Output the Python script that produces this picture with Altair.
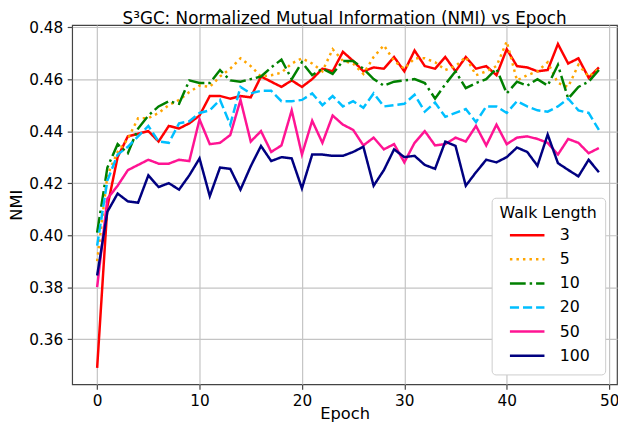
import altair as alt
import pandas as pd

epochs = list(range(50))
walk_lengths = ["3", "5", "10", "20", "50", "100"]

nmi_3 = [0.349, 0.411, 0.430, 0.438, 0.439, 0.440, 0.436, 0.442, 0.441, 0.443,
         0.446, 0.4535, 0.4535, 0.4525, 0.4535, 0.453, 0.461, 0.459, 0.457, 0.4595,
         0.457, 0.460, 0.464, 0.463, 0.4705, 0.467, 0.463, 0.4645, 0.464, 0.4685,
         0.463, 0.471, 0.465, 0.464, 0.4685, 0.463, 0.4685, 0.464, 0.465, 0.4615,
         0.4715, 0.465, 0.4645, 0.463, 0.4635, 0.4735, 0.466, 0.468, 0.4605, 0.4645]
nmi_5 = [0.390, 0.423, 0.432, 0.437, 0.445, 0.445, 0.447, 0.450, 0.452, 0.455,
         0.4575, 0.457, 0.461, 0.464, 0.468, 0.465, 0.461, 0.4615, 0.4625, 0.466,
         0.468, 0.466, 0.463, 0.4715, 0.467, 0.466, 0.462, 0.4685, 0.473, 0.467,
         0.464, 0.468, 0.468, 0.4665, 0.4635, 0.465, 0.4685, 0.4615, 0.463, 0.465,
         0.4745, 0.4595, 0.4615, 0.463, 0.4665, 0.4585, 0.457, 0.4655, 0.461, 0.464]
nmi_10 = [0.401, 0.426, 0.435, 0.4315, 0.441, 0.446, 0.4495, 0.4515, 0.4505, 0.4595,
          0.4585, 0.4585, 0.4635, 0.4595, 0.459, 0.460, 0.461, 0.4645, 0.4675, 0.460,
          0.4665, 0.4615, 0.464, 0.462, 0.467, 0.467, 0.464, 0.460, 0.4575, 0.459,
          0.4595, 0.460, 0.4585, 0.4525, 0.458, 0.463, 0.4565, 0.4585, 0.460, 0.464,
          0.4545, 0.459, 0.4575, 0.460, 0.4575, 0.4655, 0.4525, 0.457, 0.459, 0.4635]
nmi_20 = [0.396, 0.421, 0.431, 0.434, 0.438, 0.442, 0.436, 0.4355, 0.443, 0.4438,
          0.447, 0.448, 0.452, 0.4425, 0.457, 0.4545, 0.4555, 0.4555, 0.4515, 0.4515,
          0.452, 0.4545, 0.450, 0.4535, 0.4495, 0.4515, 0.449, 0.4545, 0.4495, 0.450,
          0.4505, 0.454, 0.4475, 0.451, 0.4455, 0.447, 0.4485, 0.4435, 0.4495, 0.4495,
          0.447, 0.4515, 0.4495, 0.448, 0.4475, 0.4495, 0.4525, 0.448, 0.447, 0.4405]
nmi_50 = [0.380, 0.414, 0.419, 0.425, 0.427, 0.429, 0.4275, 0.4275, 0.429, 0.4285,
          0.4445, 0.435, 0.4355, 0.4385, 0.452, 0.436, 0.440, 0.432, 0.4345, 0.448,
          0.431, 0.444, 0.4355, 0.446, 0.4425, 0.4405, 0.4345, 0.4375, 0.433, 0.435,
          0.428, 0.4355, 0.440, 0.4345, 0.435, 0.4375, 0.436, 0.442, 0.4345, 0.4425,
          0.435, 0.4375, 0.438, 0.437, 0.4355, 0.431, 0.437, 0.4355, 0.4315, 0.4335]
nmi_100 = [0.3845, 0.409, 0.416, 0.413, 0.4125, 0.423, 0.4185, 0.420, 0.4175, 0.423,
           0.4295, 0.415, 0.426, 0.4255, 0.4175, 0.4265, 0.4343, 0.4285, 0.430, 0.4295,
           0.418, 0.431, 0.431, 0.4305, 0.4305, 0.432, 0.434, 0.419, 0.425, 0.433,
           0.430, 0.4305, 0.427, 0.4255, 0.436, 0.4343, 0.419, 0.4242, 0.429, 0.428,
           0.430, 0.4337, 0.432, 0.4267, 0.4387, 0.4277, 0.4251, 0.4226, 0.429, 0.4242]

series = [nmi_3, nmi_5, nmi_10, nmi_20, nmi_50, nmi_100]
colors = ["#ff0000", "#ffa500", "#008000", "#00bfff", "#ff1493", "#000080"]
dashes = [[1, 0], [2.5, 4.1], [16, 4, 2.5, 4], [9.25, 4], [1, 0], [1, 0]]

x_ticks = [0, 10, 20, 30, 40, 50]
y_ticks = [0.36, 0.38, 0.40, 0.42, 0.44, 0.46, 0.48]

rows = []
for wl, vals in zip(walk_lengths, series):
    for e, v in zip(epochs, vals):
        rows.append({"Epoch": e, "NMI": v, "Walk Length": wl})
df = pd.DataFrame(rows)

legend = alt.Legend(
    title="Walk Length", orient="none", legendX=425, legendY=175,
    fillColor="white", strokeColor="#cccccc", cornerRadius=4, padding=8,
    titleFontSize=16, titleFontWeight="normal", titleColor="black", titleFont="DejaVu Sans",
    labelFontSize=16, labelColor="black", labelFont="DejaVu Sans",
    symbolType="stroke", symbolSize=1225, symbolStrokeWidth=2.5,
    clipHeight=22, rowPadding=2.4, symbolOffset=9, labelOffset=14, titlePadding=3,
)

chart = alt.Chart(df).mark_line(strokeWidth=2.5, clip=True, strokeCap="butt").encode(
    x=alt.X("Epoch:Q",
            scale=alt.Scale(domain=[-2.44, 50.77], nice=False, zero=False),
            axis=alt.Axis(values=x_ticks, title="Epoch", format="d", titlePadding=-3)),
    y=alt.Y("NMI:Q",
            scale=alt.Scale(domain=[0.34266, 0.4808], nice=False, zero=False),
            axis=alt.Axis(values=y_ticks, title="NMI", format=".2f", titlePadding=4)),
    color=alt.Color("Walk Length:N",
                    scale=alt.Scale(domain=walk_lengths, range=colors),
                    legend=legend),
    strokeDash=alt.StrokeDash("Walk Length:N",
                              scale=alt.Scale(domain=walk_lengths, range=dashes),
                              legend=legend),
).properties(
    width=552, height=364,
    title=alt.TitleParams("S³GC: Normalized Mutual Information (NMI) vs Epoch",
                          fontSize=17, fontWeight="normal", font="DejaVu Sans",
                          color="black", offset=-8),
    autosize=alt.AutoSizeParams(type="none"),
    padding={"left": 65, "top": 14.5, "right": 1, "bottom": 40},
).configure(
    font="DejaVu Sans"
).configure_view(
    stroke="#444444", strokeWidth=1.2
).configure_axis(
    grid=True, gridColor="#c4c4c4", gridWidth=1.2, domain=False,
    tickColor="#444444", tickSize=5, tickWidth=1.2,
    labelFontSize=15.5, labelColor="black", labelPadding=4.5, labelFont="DejaVu Sans",
    titleFontSize=16.5, titleFontWeight="normal", titleColor="black", titleFont="DejaVu Sans",
)

chart.save("out.html", embed_options={"renderer": "svg", "actions": False})
